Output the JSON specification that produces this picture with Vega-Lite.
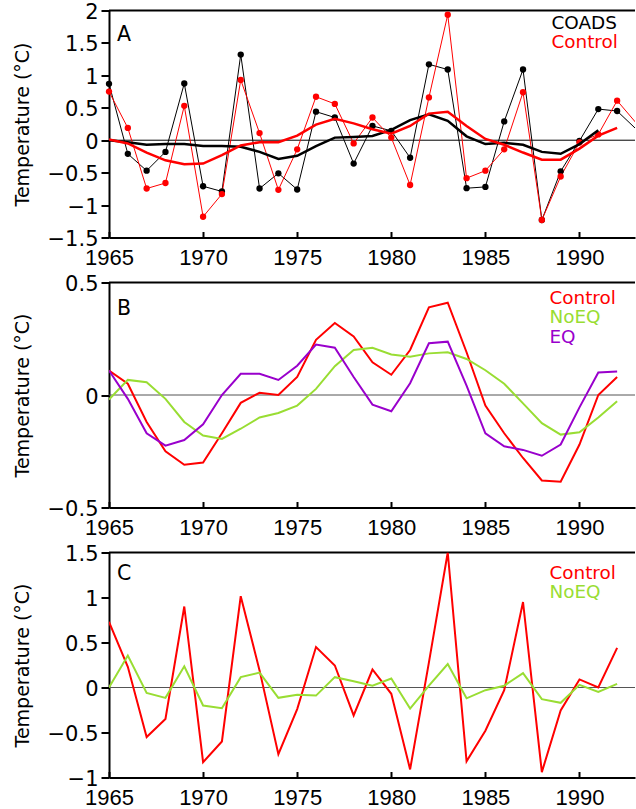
{
  "$schema": "https://vega.github.io/schema/vega-lite/v6.json",
  "background": "white",
  "padding": {"left": 13, "top": 1.5, "right": 0, "bottom": 0},
  "spacing": 45,
  "bounds": "flush",
  "resolve": {"scale": {"color": "independent"}, "legend": {"color": "independent"}},
  "config": {
    "view": {"stroke": null},
    "axis": {"grid": false, "domainColor": "black", "domainWidth": 2, "tickColor": "black", "tickWidth": 2, "labelColor": "black", "labelFlush": false, "labelOverlap": false, "titleColor": "black", "titleFontWeight": "normal"},
    "axisX": {"tickSize": -6, "labelPadding": 16, "labelFont": "Liberation Sans", "labelFontSize": 22, "labelOverlap": false},
    "axisY": {"tickSize": 8, "labelPadding": 3, "labelOffset": 2, "labelFont": "DejaVu Sans", "labelFontSize": 21, "labelOverlap": false, "titleFont": "DejaVu Sans", "titleFontSize": 19, "titleX": -81, "titleBaseline": "alphabetic", "titleAngle": 270},
    "legend": {"title": null, "symbolSize": 0, "symbolOpacity": 0, "symbolStrokeWidth": 0, "labelOffset": 0, "labelFont": "DejaVu Sans", "labelFontSize": 18.4, "rowPadding": 0.6, "padding": 0},
    "title": {"anchor": "start", "frame": "group", "font": "DejaVu Sans", "fontSize": 20.5, "fontWeight": "normal", "color": "black", "baseline": "top", "dx": 8}
  },
  "vconcat": [
    {
      "width": 526,
      "height": 227,
      "title": {"text": "A", "offset": -44},
      "data": {"values": [
        {"year":1965,"series":"COADS","kind":"raw","value":0.87},{"year":1966,"series":"COADS","kind":"raw","value":-0.21},{"year":1967,"series":"COADS","kind":"raw","value":-0.47},{"year":1968,"series":"COADS","kind":"raw","value":-0.18},{"year":1969,"series":"COADS","kind":"raw","value":0.875},{"year":1970,"series":"COADS","kind":"raw","value":-0.71},{"year":1971,"series":"COADS","kind":"raw","value":-0.79},{"year":1972,"series":"COADS","kind":"raw","value":1.32},{"year":1973,"series":"COADS","kind":"raw","value":-0.745},{"year":1974,"series":"COADS","kind":"raw","value":-0.51},{"year":1975,"series":"COADS","kind":"raw","value":-0.76},{"year":1976,"series":"COADS","kind":"raw","value":0.44},{"year":1977,"series":"COADS","kind":"raw","value":0.35},{"year":1978,"series":"COADS","kind":"raw","value":-0.36},{"year":1979,"series":"COADS","kind":"raw","value":0.22},{"year":1980,"series":"COADS","kind":"raw","value":0.145},{"year":1981,"series":"COADS","kind":"raw","value":-0.27},{"year":1982,"series":"COADS","kind":"raw","value":1.17},{"year":1983,"series":"COADS","kind":"raw","value":1.09},{"year":1984,"series":"COADS","kind":"raw","value":-0.74},{"year":1985,"series":"COADS","kind":"raw","value":-0.72},{"year":1986,"series":"COADS","kind":"raw","value":0.29},{"year":1987,"series":"COADS","kind":"raw","value":1.09},{"year":1988,"series":"COADS","kind":"raw","value":-1.23},{"year":1989,"series":"COADS","kind":"raw","value":-0.48},{"year":1990,"series":"COADS","kind":"raw","value":-0.01},{"year":1991,"series":"COADS","kind":"raw","value":0.48},{"year":1992,"series":"COADS","kind":"raw","value":0.45},{"year":1993,"series":"COADS","kind":"raw","value":0.175},
        {"year":1965,"series":"Control","kind":"raw","value":0.75},{"year":1966,"series":"Control","kind":"raw","value":0.19},{"year":1967,"series":"Control","kind":"raw","value":-0.745},{"year":1968,"series":"Control","kind":"raw","value":-0.66},{"year":1969,"series":"Control","kind":"raw","value":0.53},{"year":1970,"series":"Control","kind":"raw","value":-1.18},{"year":1971,"series":"Control","kind":"raw","value":-0.83},{"year":1972,"series":"Control","kind":"raw","value":0.93},{"year":1973,"series":"Control","kind":"raw","value":0.11},{"year":1974,"series":"Control","kind":"raw","value":-0.765},{"year":1975,"series":"Control","kind":"raw","value":-0.14},{"year":1976,"series":"Control","kind":"raw","value":0.67},{"year":1977,"series":"Control","kind":"raw","value":0.56},{"year":1978,"series":"Control","kind":"raw","value":-0.05},{"year":1979,"series":"Control","kind":"raw","value":0.35},{"year":1980,"series":"Control","kind":"raw","value":0.04},{"year":1981,"series":"Control","kind":"raw","value":-0.69},{"year":1982,"series":"Control","kind":"raw","value":0.66},{"year":1983,"series":"Control","kind":"raw","value":1.935},{"year":1984,"series":"Control","kind":"raw","value":-0.585},{"year":1985,"series":"Control","kind":"raw","value":-0.47},{"year":1986,"series":"Control","kind":"raw","value":-0.14},{"year":1987,"series":"Control","kind":"raw","value":0.74},{"year":1988,"series":"Control","kind":"raw","value":-1.23},{"year":1989,"series":"Control","kind":"raw","value":-0.56},{"year":1990,"series":"Control","kind":"raw","value":-0.035},{"year":1991,"series":"Control","kind":"raw","value":0.09},{"year":1992,"series":"Control","kind":"raw","value":0.61},{"year":1993,"series":"Control","kind":"raw","value":0.27},
        {"year":1965,"series":"COADS","kind":"smooth","value":0.0},{"year":1966,"series":"COADS","kind":"smooth","value":-0.03},{"year":1967,"series":"COADS","kind":"smooth","value":-0.07},{"year":1968,"series":"COADS","kind":"smooth","value":-0.06},{"year":1969,"series":"COADS","kind":"smooth","value":-0.06},{"year":1970,"series":"COADS","kind":"smooth","value":-0.09},{"year":1971,"series":"COADS","kind":"smooth","value":-0.09},{"year":1972,"series":"COADS","kind":"smooth","value":-0.1},{"year":1973,"series":"COADS","kind":"smooth","value":-0.18},{"year":1974,"series":"COADS","kind":"smooth","value":-0.29},{"year":1975,"series":"COADS","kind":"smooth","value":-0.24},{"year":1976,"series":"COADS","kind":"smooth","value":-0.09},{"year":1977,"series":"COADS","kind":"smooth","value":0.04},{"year":1978,"series":"COADS","kind":"smooth","value":0.05},{"year":1979,"series":"COADS","kind":"smooth","value":0.065},{"year":1980,"series":"COADS","kind":"smooth","value":0.16},{"year":1981,"series":"COADS","kind":"smooth","value":0.31},{"year":1982,"series":"COADS","kind":"smooth","value":0.4},{"year":1983,"series":"COADS","kind":"smooth","value":0.3},{"year":1984,"series":"COADS","kind":"smooth","value":0.06},{"year":1985,"series":"COADS","kind":"smooth","value":-0.06},{"year":1986,"series":"COADS","kind":"smooth","value":-0.04},{"year":1987,"series":"COADS","kind":"smooth","value":-0.07},{"year":1988,"series":"COADS","kind":"smooth","value":-0.18},{"year":1989,"series":"COADS","kind":"smooth","value":-0.21},{"year":1990,"series":"COADS","kind":"smooth","value":-0.06},{"year":1991,"series":"COADS","kind":"smooth","value":0.155},
        {"year":1965,"series":"Control","kind":"smooth","value":0.01},{"year":1966,"series":"Control","kind":"smooth","value":-0.05},{"year":1967,"series":"Control","kind":"smooth","value":-0.19},{"year":1968,"series":"Control","kind":"smooth","value":-0.31},{"year":1969,"series":"Control","kind":"smooth","value":-0.37},{"year":1970,"series":"Control","kind":"smooth","value":-0.36},{"year":1971,"series":"Control","kind":"smooth","value":-0.23},{"year":1972,"series":"Control","kind":"smooth","value":-0.08},{"year":1973,"series":"Control","kind":"smooth","value":-0.03},{"year":1974,"series":"Control","kind":"smooth","value":-0.03},{"year":1975,"series":"Control","kind":"smooth","value":0.07},{"year":1976,"series":"Control","kind":"smooth","value":0.24},{"year":1977,"series":"Control","kind":"smooth","value":0.33},{"year":1978,"series":"Control","kind":"smooth","value":0.26},{"year":1979,"series":"Control","kind":"smooth","value":0.17},{"year":1980,"series":"Control","kind":"smooth","value":0.1},{"year":1981,"series":"Control","kind":"smooth","value":0.22},{"year":1982,"series":"Control","kind":"smooth","value":0.41},{"year":1983,"series":"Control","kind":"smooth","value":0.44},{"year":1984,"series":"Control","kind":"smooth","value":0.22},{"year":1985,"series":"Control","kind":"smooth","value":0.02},{"year":1986,"series":"Control","kind":"smooth","value":-0.07},{"year":1987,"series":"Control","kind":"smooth","value":-0.19},{"year":1988,"series":"Control","kind":"smooth","value":-0.3},{"year":1989,"series":"Control","kind":"smooth","value":-0.3},{"year":1990,"series":"Control","kind":"smooth","value":-0.13},{"year":1991,"series":"Control","kind":"smooth","value":0.07},{"year":1992,"series":"Control","kind":"smooth","value":0.19}
      ]},
      "layer": [
        {
          "data": {"values": [{"value": 2}]},
          "mark": {"type": "rule", "color": "black", "strokeWidth": 2},
          "encoding": {"y": {"field": "value", "type": "quantitative", "scale": {"domain": [-1.5, 2], "nice": false, "zero": false}, "axis": {"values": [-1.5, -1, -0.5, 0, 0.5, 1, 1.5, 2], "format": "~g", "labelOverlap": false, "title": "Temperature (°C)"}}}
        },
        {
          "data": {"values": [{"value": 0}]},
          "mark": {"type": "rule", "color": "black", "strokeWidth": 1},
          "encoding": {"y": {"field": "value", "type": "quantitative", "scale": {"domain": [-1.5, 2], "nice": false, "zero": false}, "axis": {"values": [-1.5, -1, -0.5, 0, 0.5, 1, 1.5, 2], "format": "~g", "labelOverlap": false, "title": "Temperature (°C)"}}}
        },
        {
          "transform": [{"filter": "datum.kind == 'raw'"}],
          "mark": {"type": "line", "strokeWidth": 1, "clip": true},
          "encoding": {
            "x": {"field": "year", "type": "quantitative", "scale": {"domain": [1965, 1992.95], "nice": false, "zero": false}, "axis": {"values": [1965, 1970, 1975, 1980, 1985, 1990], "format": "d", "labelOverlap": false, "title": null}},
            "y": {"field": "value", "type": "quantitative", "scale": {"domain": [-1.5, 2], "nice": false, "zero": false}, "axis": {"values": [-1.5, -1, -0.5, 0, 0.5, 1, 1.5, 2], "format": "~g", "labelOverlap": false, "title": "Temperature (°C)"}},
            "color": {"field": "series", "type": "nominal", "scale": {"domain": ["COADS", "Control"], "range": ["#000000", "#ff0000"]}, "legend": {"orient": "none", "legendX": 424, "legendY": 3, "labelColor": {"expr": "datum.value == 'COADS' ? '#000000' : '#ff0000'"}}}
          }
        },
        {
          "transform": [{"filter": "datum.kind == 'raw' && datum.year <= 1992"}],
          "mark": {"type": "circle", "size": 40, "opacity": 1},
          "encoding": {
            "x": {"field": "year", "type": "quantitative", "scale": {"domain": [1965, 1992.95], "nice": false, "zero": false}, "axis": {"values": [1965, 1970, 1975, 1980, 1985, 1990], "format": "d", "labelOverlap": false, "title": null}},
            "y": {"field": "value", "type": "quantitative", "scale": {"domain": [-1.5, 2], "nice": false, "zero": false}, "axis": {"values": [-1.5, -1, -0.5, 0, 0.5, 1, 1.5, 2], "format": "~g", "labelOverlap": false, "title": "Temperature (°C)"}},
            "color": {"field": "series", "type": "nominal", "scale": {"domain": ["COADS", "Control"], "range": ["#000000", "#ff0000"]}, "legend": {"orient": "none", "legendX": 424, "legendY": 3, "labelColor": {"expr": "datum.value == 'COADS' ? '#000000' : '#ff0000'"}}}
          }
        },
        {
          "transform": [{"filter": "datum.kind == 'smooth'"}],
          "mark": {"type": "line", "strokeWidth": 2.5, "clip": true},
          "encoding": {
            "x": {"field": "year", "type": "quantitative", "scale": {"domain": [1965, 1992.95], "nice": false, "zero": false}, "axis": {"values": [1965, 1970, 1975, 1980, 1985, 1990], "format": "d", "labelOverlap": false, "title": null}},
            "y": {"field": "value", "type": "quantitative", "scale": {"domain": [-1.5, 2], "nice": false, "zero": false}, "axis": {"values": [-1.5, -1, -0.5, 0, 0.5, 1, 1.5, 2], "format": "~g", "labelOverlap": false, "title": "Temperature (°C)"}},
            "color": {"field": "series", "type": "nominal", "scale": {"domain": ["COADS", "Control"], "range": ["#000000", "#ff0000"]}, "legend": {"orient": "none", "legendX": 424, "legendY": 3, "labelColor": {"expr": "datum.value == 'COADS' ? '#000000' : '#ff0000'"}}}
          }
        }
      ]
    },
    {
      "width": 526,
      "height": 225,
      "title": {"text": "B", "offset": -46},
      "data": {"values": [
        {"year":1965,"series":"Control","value":0.109},{"year":1966,"series":"Control","value":0.05},{"year":1967,"series":"Control","value":-0.12},{"year":1968,"series":"Control","value":-0.25},{"year":1969,"series":"Control","value":-0.31},{"year":1970,"series":"Control","value":-0.30},{"year":1971,"series":"Control","value":-0.17},{"year":1972,"series":"Control","value":-0.035},{"year":1973,"series":"Control","value":0.01},{"year":1974,"series":"Control","value":0.0},{"year":1975,"series":"Control","value":0.08},{"year":1976,"series":"Control","value":0.245},{"year":1977,"series":"Control","value":0.32},{"year":1978,"series":"Control","value":0.26},{"year":1979,"series":"Control","value":0.145},{"year":1980,"series":"Control","value":0.09},{"year":1981,"series":"Control","value":0.2},{"year":1982,"series":"Control","value":0.39},{"year":1983,"series":"Control","value":0.41},{"year":1984,"series":"Control","value":0.19},{"year":1985,"series":"Control","value":-0.047},{"year":1986,"series":"Control","value":-0.17},{"year":1987,"series":"Control","value":-0.28},{"year":1988,"series":"Control","value":-0.38},{"year":1989,"series":"Control","value":-0.385},{"year":1990,"series":"Control","value":-0.22},{"year":1991,"series":"Control","value":0.0},{"year":1992,"series":"Control","value":0.08},
        {"year":1965,"series":"NoEQ","value":-0.02},{"year":1966,"series":"NoEQ","value":0.067},{"year":1967,"series":"NoEQ","value":0.057},{"year":1968,"series":"NoEQ","value":-0.017},{"year":1969,"series":"NoEQ","value":-0.12},{"year":1970,"series":"NoEQ","value":-0.18},{"year":1971,"series":"NoEQ","value":-0.195},{"year":1972,"series":"NoEQ","value":-0.15},{"year":1973,"series":"NoEQ","value":-0.10},{"year":1974,"series":"NoEQ","value":-0.08},{"year":1975,"series":"NoEQ","value":-0.047},{"year":1976,"series":"NoEQ","value":0.027},{"year":1977,"series":"NoEQ","value":0.128},{"year":1978,"series":"NoEQ","value":0.2},{"year":1979,"series":"NoEQ","value":0.21},{"year":1980,"series":"NoEQ","value":0.18},{"year":1981,"series":"NoEQ","value":0.17},{"year":1982,"series":"NoEQ","value":0.185},{"year":1983,"series":"NoEQ","value":0.19},{"year":1984,"series":"NoEQ","value":0.16},{"year":1985,"series":"NoEQ","value":0.11},{"year":1986,"series":"NoEQ","value":0.05},{"year":1987,"series":"NoEQ","value":-0.037},{"year":1988,"series":"NoEQ","value":-0.125},{"year":1989,"series":"NoEQ","value":-0.176},{"year":1990,"series":"NoEQ","value":-0.166},{"year":1991,"series":"NoEQ","value":-0.10},{"year":1992,"series":"NoEQ","value":-0.028},
        {"year":1965,"series":"EQ","value":0.109},{"year":1966,"series":"EQ","value":-0.017},{"year":1967,"series":"EQ","value":-0.17},{"year":1968,"series":"EQ","value":-0.225},{"year":1969,"series":"EQ","value":-0.2},{"year":1970,"series":"EQ","value":-0.13},{"year":1971,"series":"EQ","value":0.0},{"year":1972,"series":"EQ","value":0.094},{"year":1973,"series":"EQ","value":0.094},{"year":1974,"series":"EQ","value":0.067},{"year":1975,"series":"EQ","value":0.13},{"year":1976,"series":"EQ","value":0.224},{"year":1977,"series":"EQ","value":0.21},{"year":1978,"series":"EQ","value":0.08},{"year":1979,"series":"EQ","value":-0.043},{"year":1980,"series":"EQ","value":-0.072},{"year":1981,"series":"EQ","value":0.052},{"year":1982,"series":"EQ","value":0.23},{"year":1983,"series":"EQ","value":0.237},{"year":1984,"series":"EQ","value":0.042},{"year":1985,"series":"EQ","value":-0.17},{"year":1986,"series":"EQ","value":-0.228},{"year":1987,"series":"EQ","value":-0.244},{"year":1988,"series":"EQ","value":-0.27},{"year":1989,"series":"EQ","value":-0.22},{"year":1990,"series":"EQ","value":-0.055},{"year":1991,"series":"EQ","value":0.10},{"year":1992,"series":"EQ","value":0.104}
      ]},
      "layer": [
        {
          "data": {"values": [{"value": 0.5}]},
          "mark": {"type": "rule", "color": "black", "strokeWidth": 2},
          "encoding": {"y": {"field": "value", "type": "quantitative", "scale": {"domain": [-0.5, 0.5], "nice": false, "zero": false}, "axis": {"values": [-0.5, 0, 0.5], "format": "~g", "labelOverlap": false, "title": "Temperature (°C)"}}}
        },
        {
          "data": {"values": [{"value": 0}]},
          "mark": {"type": "rule", "color": "#555555", "strokeWidth": 1},
          "encoding": {"y": {"field": "value", "type": "quantitative", "scale": {"domain": [-0.5, 0.5], "nice": false, "zero": false}, "axis": {"values": [-0.5, 0, 0.5], "format": "~g", "labelOverlap": false, "title": "Temperature (°C)"}}}
        },
        {
          "mark": {"type": "line", "strokeWidth": 2, "clip": true},
          "encoding": {
            "x": {"field": "year", "type": "quantitative", "scale": {"domain": [1965, 1992.95], "nice": false, "zero": false}, "axis": {"values": [1965, 1970, 1975, 1980, 1985, 1990], "format": "d", "labelOverlap": false, "title": null}},
            "y": {"field": "value", "type": "quantitative", "scale": {"domain": [-0.5, 0.5], "nice": false, "zero": false}, "axis": {"values": [-0.5, 0, 0.5], "format": "~g", "labelOverlap": false, "title": "Temperature (°C)"}},
            "color": {"field": "series", "type": "nominal", "scale": {"domain": ["Control", "NoEQ", "EQ"], "range": ["#ff0000", "#99dd33", "#9900cc"]}, "legend": {"orient": "none", "legendX": 422, "legendY": 6, "labelColor": {"expr": "datum.value == 'Control' ? '#ff0000' : datum.value == 'NoEQ' ? '#99dd33' : '#9900cc'"}}}
          }
        }
      ]
    },
    {
      "width": 526,
      "height": 225,
      "title": {"text": "C", "offset": -41},
      "data": {"values": [
        {"year":1965,"series":"Control","value":0.73},{"year":1966,"series":"Control","value":0.23},{"year":1967,"series":"Control","value":-0.55},{"year":1968,"series":"Control","value":-0.35},{"year":1969,"series":"Control","value":0.9},{"year":1970,"series":"Control","value":-0.83},{"year":1971,"series":"Control","value":-0.6},{"year":1972,"series":"Control","value":1.015},{"year":1973,"series":"Control","value":0.19},{"year":1974,"series":"Control","value":-0.74},{"year":1975,"series":"Control","value":-0.24},{"year":1976,"series":"Control","value":0.45},{"year":1977,"series":"Control","value":0.245},{"year":1978,"series":"Control","value":-0.31},{"year":1979,"series":"Control","value":0.2},{"year":1980,"series":"Control","value":-0.07},{"year":1981,"series":"Control","value":-0.91},{"year":1982,"series":"Control","value":0.28},{"year":1983,"series":"Control","value":1.5},{"year":1984,"series":"Control","value":-0.82},{"year":1985,"series":"Control","value":-0.48},{"year":1986,"series":"Control","value":-0.03},{"year":1987,"series":"Control","value":0.95},{"year":1988,"series":"Control","value":-0.94},{"year":1989,"series":"Control","value":-0.255},{"year":1990,"series":"Control","value":0.09},{"year":1991,"series":"Control","value":0.0},{"year":1992,"series":"Control","value":0.44},
        {"year":1965,"series":"NoEQ","value":0.0},{"year":1966,"series":"NoEQ","value":0.355},{"year":1967,"series":"NoEQ","value":-0.06},{"year":1968,"series":"NoEQ","value":-0.115},{"year":1969,"series":"NoEQ","value":0.235},{"year":1970,"series":"NoEQ","value":-0.2},{"year":1971,"series":"NoEQ","value":-0.23},{"year":1972,"series":"NoEQ","value":0.115},{"year":1973,"series":"NoEQ","value":0.165},{"year":1974,"series":"NoEQ","value":-0.115},{"year":1975,"series":"NoEQ","value":-0.08},{"year":1976,"series":"NoEQ","value":-0.09},{"year":1977,"series":"NoEQ","value":0.115},{"year":1978,"series":"NoEQ","value":0.07},{"year":1979,"series":"NoEQ","value":0.02},{"year":1980,"series":"NoEQ","value":0.1},{"year":1981,"series":"NoEQ","value":-0.235},{"year":1982,"series":"NoEQ","value":0.02},{"year":1983,"series":"NoEQ","value":0.26},{"year":1984,"series":"NoEQ","value":-0.12},{"year":1985,"series":"NoEQ","value":-0.03},{"year":1986,"series":"NoEQ","value":0.02},{"year":1987,"series":"NoEQ","value":0.16},{"year":1988,"series":"NoEQ","value":-0.13},{"year":1989,"series":"NoEQ","value":-0.17},{"year":1990,"series":"NoEQ","value":0.03},{"year":1991,"series":"NoEQ","value":-0.05},{"year":1992,"series":"NoEQ","value":0.04}
      ]},
      "layer": [
        {
          "data": {"values": [{"value": 1.5}]},
          "mark": {"type": "rule", "color": "black", "strokeWidth": 2},
          "encoding": {"y": {"field": "value", "type": "quantitative", "scale": {"domain": [-1, 1.5], "nice": false, "zero": false}, "axis": {"values": [-1, -0.5, 0, 0.5, 1, 1.5], "format": "~g", "labelOverlap": false, "title": "Temperature (°C)"}}}
        },
        {
          "data": {"values": [{"value": 0}]},
          "mark": {"type": "rule", "color": "#555555", "strokeWidth": 1},
          "encoding": {"y": {"field": "value", "type": "quantitative", "scale": {"domain": [-1, 1.5], "nice": false, "zero": false}, "axis": {"values": [-1, -0.5, 0, 0.5, 1, 1.5], "format": "~g", "labelOverlap": false, "title": "Temperature (°C)"}}}
        },
        {
          "mark": {"type": "line", "strokeWidth": 2, "clip": true},
          "encoding": {
            "x": {"field": "year", "type": "quantitative", "scale": {"domain": [1965, 1992.95], "nice": false, "zero": false}, "axis": {"values": [1965, 1970, 1975, 1980, 1985, 1990], "format": "d", "labelOverlap": false, "title": null}},
            "y": {"field": "value", "type": "quantitative", "scale": {"domain": [-1, 1.5], "nice": false, "zero": false}, "axis": {"values": [-1, -0.5, 0, 0.5, 1, 1.5], "format": "~g", "labelOverlap": false, "title": "Temperature (°C)"}},
            "color": {"field": "series", "type": "nominal", "scale": {"domain": ["Control", "NoEQ"], "range": ["#ff0000", "#99dd33"]}, "legend": {"orient": "none", "legendX": 422, "legendY": 11, "labelColor": {"expr": "datum.value == 'Control' ? '#ff0000' : '#99dd33'"}}}
          }
        }
      ]
    }
  ]
}
